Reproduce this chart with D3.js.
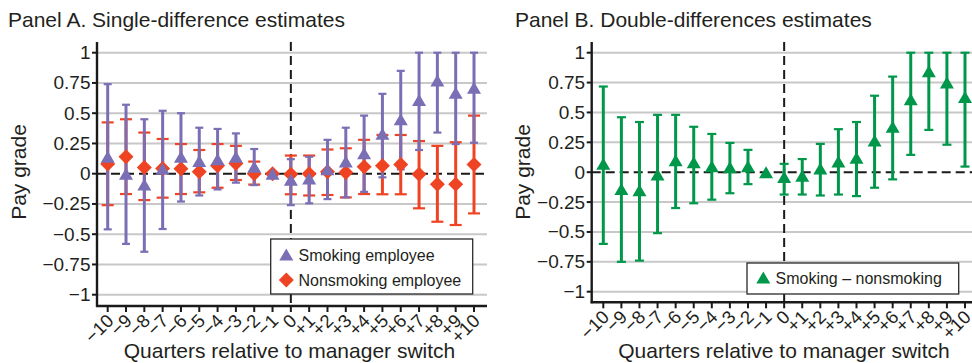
<!DOCTYPE html>
<html>
<head>
<meta charset="utf-8">
<script src="https://cdn.jsdelivr.net/npm/d3@7/dist/d3.min.js"></script>
<style>
  html, body { margin: 0; padding: 0; background: #fff; }
  svg { display: block; font-family: "Liberation Sans", Arial, Helvetica, sans-serif; }
</style>
</head>
<body>
<svg id="chart" width="972" height="363"></svg>
<script>
// ---------- data ----------
const quarters = [-10,-9,-8,-7,-6,-5,-4,-3,-2,-1,0,1,2,3,4,5,6,7,8,9,10];
const tickLabels = ["\u221210","\u22129","\u22128","\u22127","\u22126","\u22125","\u22124","\u22123","\u22122","\u22121","0","+1","+2","+3","+4","+5","+6","+7","+8","+9","+10"];
const yTicks = [1, 0.75, 0.5, 0.25, 0, -0.25, -0.5, -0.75, -1];
const yTickLabels = ["1","0.75","0.5","0.25","0","\u22120.25","\u22120.5","\u22120.75","\u22121"];

const smokingEst = [0.14, 0.00, -0.09, 0.04, 0.14, 0.105, 0.12, 0.14, 0.058, 0.0, -0.05, -0.04, 0.036, 0.10, 0.17, 0.33, 0.45, 0.61, 0.77, 0.67, 0.71];
const smokingLo  = [-0.46, -0.58, -0.645, -0.457, -0.23, -0.18, -0.13, -0.074, -0.094, null, -0.26, -0.245, -0.21, -0.196, -0.15, -0.03, 0.036, 0.196, 0.34, 0.245, 0.256];
const smokingHi  = [0.74, 0.57, 0.45, 0.52, 0.50, 0.38, 0.37, 0.333, 0.204, null, 0.12, 0.14, 0.28, 0.38, 0.48, 0.66, 0.85, 1.0, 1.0, 1.0, 1.0];

const nonsmokingEst = [0.08, 0.14, 0.052, 0.044, 0.04, 0.017, 0.066, 0.085, 0.0, 0.0, -0.005, 0.0, 0.017, 0.01, 0.058, 0.066, 0.077, -0.005, -0.088, -0.088, 0.077];
const nonsmokingLo  = [-0.26, -0.168, -0.218, -0.198, -0.168, -0.154, -0.116, -0.052, -0.09, null, -0.17, -0.18, -0.176, -0.196, -0.168, -0.17, -0.17, -0.286, -0.397, -0.424, -0.328];
const nonsmokingHi  = [0.424, 0.45, 0.34, 0.287, 0.245, 0.196, 0.245, 0.23, 0.10, null, 0.15, 0.15, 0.20, 0.21, 0.28, 0.32, 0.32, 0.27, 0.23, 0.26, 0.48];

const diffEst = [0.07, -0.14, -0.15, -0.02, 0.10, 0.084, 0.05, 0.042, 0.05, 0.0, -0.04, -0.03, 0.03, 0.09, 0.12, 0.265, 0.38, 0.61, 0.845, 0.75, 0.63];
const diffLo  = [-0.60, -0.75, -0.74, -0.51, -0.30, -0.26, -0.23, -0.176, -0.10, null, -0.187, -0.187, -0.195, -0.187, -0.20, -0.13, -0.06, 0.145, 0.354, 0.23, 0.047];
const diffHi  = [0.717, 0.46, 0.42, 0.48, 0.48, 0.38, 0.32, 0.245, 0.187, null, 0.07, 0.11, 0.237, 0.36, 0.42, 0.64, 0.80, 1.0, 1.0, 1.0, 1.0];

// ---------- style ----------
const PURPLE = "#7a6fb5";
const RED = "#ef4424";
const GREEN = "#00974a";
const TEXT = "#231f20";
const GRID = "#c8c8c8";

const svg = d3.select("#chart");

function trianglePath(w, h) {
  return `M0,${-h/2}L${w/2},${h/2}L${-w/2},${h/2}Z`;
}
function diamondPath(r) {
  return `M0,${-r}L${r},0L0,${r}L${-r},0Z`;
}

function drawPanel(cfg) {
  const g = svg.append("g");
  const x = d3.scaleLinear().domain([-10, 10]).range([cfg.x0, cfg.x1]);
  const y = d3.scaleLinear().domain([-1, 1]).range([cfg.yBottom1, cfg.yTop1]);

  // title
  g.append("text").attr("x", cfg.titleX).attr("y", 26.5)
    .attr("font-size", 21).attr("fill", TEXT).text(cfg.title);

  // gridlines
  g.selectAll(".grid").data(yTicks.filter(v => v !== 0)).join("line")
    .attr("x1", cfg.axisX).attr("x2", cfg.right)
    .attr("y1", d => y(d)).attr("y2", d => y(d))
    .attr("stroke", GRID).attr("stroke-width", 2);

  // zero dashed line
  g.append("line").attr("x1", cfg.axisX).attr("x2", cfg.right)
    .attr("y1", y(0)).attr("y2", y(0))
    .attr("stroke", "#1a1a1a").attr("stroke-width", 2).attr("stroke-dasharray", "9,5");

  // vertical dashed line
  g.append("line").attr("x1", x(0)).attr("x2", x(0))
    .attr("y1", cfg.spineTop).attr("y2", cfg.axisY)
    .attr("stroke", "#1a1a1a").attr("stroke-width", 2).attr("stroke-dasharray", "9,5");

  // error bars
  cfg.series.forEach(s => {
    const idx = quarters.map((q, i) => i).filter(i => s.lo[i] !== null);
    g.selectAll(null).data(idx).join("line")
      .attr("x1", i => x(quarters[i])).attr("x2", i => x(quarters[i]))
      .attr("y1", i => y(s.lo[i])).attr("y2", i => y(s.hi[i]))
      .attr("stroke", s.color).attr("stroke-width", 3);
    [s.lo, s.hi].forEach(arr => {
      g.selectAll(null).data(idx).join("line")
        .attr("x1", i => x(quarters[i]) - s.capW / 2).attr("x2", i => x(quarters[i]) + s.capW / 2)
        .attr("y1", i => y(arr[i])).attr("y2", i => y(arr[i]))
        .attr("stroke", s.color).attr("stroke-width", 2.2);
    });
  });

  // markers
  cfg.series.forEach(s => {
    g.selectAll(null).data(quarters.map((q, i) => i)).join("path")
      .attr("transform", i => `translate(${x(quarters[i])},${y(s.est[i])})`)
      .attr("d", s.shape === "triangle" ? trianglePath(14, 12) : diamondPath(7.5))
      .attr("fill", s.color);
  });

  // legend
  const L = cfg.legend;
  g.append("rect").attr("x", L.x).attr("y", L.y).attr("width", L.w).attr("height", L.h)
    .attr("fill", "#fff").attr("stroke", "#2a2a2a").attr("stroke-width", 1.3);
  L.items.forEach((it, k) => {
    const cy = L.rowY[k];
    g.append("path").attr("transform", `translate(${L.markX},${cy})`)
      .attr("d", it.shape === "triangle" ? trianglePath(14, 12) : diamondPath(7.5))
      .attr("fill", it.color);
    g.append("text").attr("x", L.textX).attr("y", cy + 6)
      .attr("font-size", 16).attr("fill", TEXT).text(it.label);
  });

  // y axis spine and ticks
  g.append("line").attr("x1", cfg.axisX).attr("x2", cfg.axisX)
    .attr("y1", cfg.spineTop).attr("y2", cfg.axisY + 1)
    .attr("stroke", "#1a1a1a").attr("stroke-width", 2.4);
  g.selectAll(null).data(yTicks).join("line")
    .attr("x1", cfg.axisX - 5).attr("x2", cfg.axisX)
    .attr("y1", d => y(d)).attr("y2", d => y(d))
    .attr("stroke", "#1a1a1a").attr("stroke-width", 2);
  g.selectAll(null).data(yTicks).join("text")
    .attr("x", cfg.axisX - 6.5).attr("y", d => y(d) + 6.5)
    .attr("text-anchor", "end").attr("font-size", 19).attr("fill", TEXT)
    .text((d, i) => yTickLabels[i]);

  // x axis line and ticks
  g.append("line").attr("x1", cfg.axisX - 1).attr("x2", cfg.right)
    .attr("y1", cfg.axisY).attr("y2", cfg.axisY)
    .attr("stroke", "#1a1a1a").attr("stroke-width", 2.4);
  g.selectAll(null).data(quarters).join("line")
    .attr("x1", d => x(d)).attr("x2", d => x(d))
    .attr("y1", cfg.axisY).attr("y2", cfg.axisY + 6)
    .attr("stroke", "#1a1a1a").attr("stroke-width", 2);
  g.selectAll(null).data(quarters).join("text")
    .attr("transform", d => `translate(${x(d) + 7},${cfg.axisY + 16}) rotate(-45)`)
    .attr("text-anchor", "end").attr("font-size", 18.5).attr("fill", TEXT)
    .text((d, i) => tickLabels[i]);

  // axis titles
  g.append("text").attr("transform", `translate(${cfg.yLabelX},${172}) rotate(-90)`)
    .attr("text-anchor", "middle").attr("font-size", 21).attr("fill", TEXT).text("Pay grade");
  g.append("text").attr("x", cfg.xLabelX).attr("y", 358)
    .attr("text-anchor", "middle").attr("font-size", 21).attr("fill", TEXT)
    .text("Quarters relative to manager switch");
}

drawPanel({
  title: "Panel A. Single-difference estimates",
  titleX: 8,
  x0: 107.7, x1: 474,
  axisX: 97, right: 487,
  yTop1: 52.7, yBottom1: 294.7,
  spineTop: 42, axisY: 306,
  yLabelX: 25.5, xLabelX: 289.5,
  series: [
    { est: nonsmokingEst, lo: nonsmokingLo, hi: nonsmokingHi, color: RED, shape: "diamond", capW: 12 },
    { est: smokingEst, lo: smokingLo, hi: smokingHi, color: PURPLE, shape: "triangle", capW: 8 }
  ],
  legend: {
    x: 270.7, y: 239, w: 202, h: 55, markX: 286.3, textX: 298.5, rowY: [254.5, 280],
    items: [
      { label: "Smoking employee", color: PURPLE, shape: "triangle" },
      { label: "Nonsmoking employee", color: RED, shape: "diamond" }
    ]
  }
});

drawPanel({
  title: "Panel B. Double-differences estimates",
  titleX: 515,
  x0: 603.3, x1: 965,
  axisX: 591.7, right: 972,
  yTop1: 52.7, yBottom1: 291.7,
  spineTop: 42, axisY: 302.3,
  yLabelX: 530, xLabelX: 784,
  series: [
    { est: diffEst, lo: diffLo, hi: diffHi, color: GREEN, shape: "triangle", capW: 9 }
  ],
  legend: {
    x: 747, y: 263, w: 211.7, h: 31, markX: 763.3, textX: 775.5, rowY: [277.5],
    items: [
      { label: "Smoking \u2013 nonsmoking", color: GREEN, shape: "triangle" }
    ]
  }
});
</script>
</body>
</html>
